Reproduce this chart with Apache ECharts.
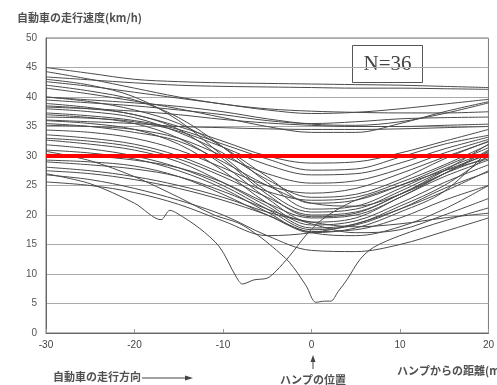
<!DOCTYPE html>
<html>
<head>
<meta charset="utf-8">
<script src="https://cdn.jsdelivr.net/npm/echarts@6/dist/echarts.min.js"></script>
<style>
  html, body { margin: 0; padding: 0; background: #fff; }
  #chart { width: 497px; height: 385px; }
</style>
</head>
<body>
<div id="chart"></div>
<script>
// 距離 (m) — hump at 0
const distance = [-30, -25, -20, -15, -10, -5, 0, 5, 10, 15, 20];
const xTicks = [-30, -20, -10, 0, 10, 20];
const yTicks = [0, 5, 10, 15, 20, 25, 30, 35, 40, 45, 50];
const limitSpeed = 30;
const sampleCount = 'N=36';

// speeds (km/h) on the distance grid
const speeds = [
    [45.0, 44.0, 43.0, 42.6, 42.4, 42.3, 42.2, 42.1, 42.0, 41.8, 41.6],
    [43.4, 42.9, 42.4, 42.0, 41.8, 41.7, 41.6, 41.5, 41.5, 41.4, 41.3],
    [44.3, 43.0, 41.5, 40.0, 38.8, 38.0, 37.6, 37.4, 37.3, 37.3, 37.5],
    [42.6, 41.8, 40.8, 39.8, 38.8, 37.8, 37.2, 37.4, 38.0, 38.8, 39.6],
    [40.0, 39.5, 39.0, 38.4, 37.5, 36.3, 35.4, 35.2, 35.8, 37.2, 39.0],
    [38.3, 38.0, 37.6, 37.0, 36.2, 35.6, 35.2, 35.0, 35.0, 35.2, 35.4],
    [36.1, 35.8, 35.5, 35.0, 34.8, 34.6, 34.5, 34.5, 34.6, 34.8, 35.0],
    [39.5, 39.0, 38.5, 37.8, 37.0, 36.0, 35.5, 35.8, 36.3, 36.5, 36.6],
    [41.5, 40.5, 39.3, 38.0, 36.5, 35.0, 34.0, 34.0, 35.5, 37.5, 39.2],
    [38.9, 38.2, 37.0, 35.0, 32.5, 30.0, 28.8, 29.0, 30.5, 32.5, 34.5],
    [37.3, 36.8, 36.0, 34.5, 32.0, 29.5, 27.6, 27.8, 29.8, 32.0, 33.5],
    [36.6, 36.4, 35.8, 34.2, 31.5, 28.5, 26.8, 27.0, 28.8, 31.2, 33.2],
    [35.2, 35.0, 34.5, 33.0, 30.0, 27.0, 25.4, 25.8, 27.8, 30.5, 32.8],
    [34.4, 34.0, 33.0, 31.0, 28.0, 25.0, 23.7, 24.5, 27.0, 29.8, 32.4],
    [33.6, 33.0, 32.0, 30.0, 27.0, 24.0, 22.5, 23.0, 25.5, 28.5, 31.9],
    [40.0, 39.2, 37.8, 35.5, 31.5, 26.5, 22.0, 22.5, 25.0, 28.2, 31.4],
    [42.0, 41.0, 39.5, 36.5, 31.5, 25.5, 21.0, 21.5, 24.5, 27.8, 30.7],
    [43.0, 42.0, 40.0, 36.0, 30.0, 24.0, 20.5, 21.0, 24.0, 27.5, 30.2],
    [38.5, 38.0, 37.0, 34.5, 29.5, 23.5, 19.7, 20.3, 23.5, 27.0, 29.8],
    [37.0, 36.5, 35.5, 33.0, 28.5, 22.8, 18.8, 19.5, 23.0, 26.5, 29.3],
    [36.0, 35.5, 34.5, 32.0, 27.5, 22.0, 18.3, 19.0, 22.0, 25.5, 28.5],
    [32.7, 32.0, 31.0, 29.0, 25.5, 21.5, 17.8, 18.5, 21.5, 25.0, 30.0],
    [31.9, 31.2, 30.0, 28.0, 25.0, 21.0, 17.5, 18.3, 21.0, 24.5, 27.3],
    [31.0, 30.5, 29.5, 27.5, 24.5, 20.5, 17.0, 17.8, 20.5, 24.0, 31.0],
    [29.3, 29.0, 28.3, 26.5, 23.5, 20.0, 17.2, 17.5, 19.5, 22.5, 25.0],
    [28.1, 27.5, 26.5, 25.0, 23.0, 20.5, 18.8, 18.0, 18.5, 19.5, 20.3],
    [26.8, 26.0, 24.5, 22.5, 20.0, 16.5, 14.0, 13.8, 15.0, 17.2, 19.5],
    [25.6, 25.0, 23.8, 21.8, 19.0, 16.5, 17.0, 18.5, 21.0, 24.0, 27.5],
    [27.5, 27.0, 26.0, 24.5, 22.5, 20.0, 17.0, 16.5, 18.0, 21.0, 25.0],
    [29.0, 28.5, 27.8, 26.5, 24.0, 21.0, 18.5, 17.0, 17.5, 20.0, 22.8],
    [38.0, 37.5, 36.5, 34.0, 30.5, 26.0, 23.0, 23.5, 26.0, 29.5, 32.5],
    [35.5, 35.0, 34.0, 32.5, 29.0, 25.0, 22.0, 21.5, 23.5, 27.0, 31.0],
    [30.3, 30.0, 29.3, 28.0, 25.5, 22.0, 19.5, 20.0, 23.0, 27.0, 30.5],
    [33.0, 32.5, 31.5, 29.5, 26.5, 23.0, 20.0, 20.5, 23.5, 27.5, 32.0]
];

// two vehicles that braked hard, as [distance, speed]
const vehicleA = [[-30, 27.0], [-25, 25.3], [-20, 22.0], [-17, 19.2], [-16, 20.8], [-15.2, 20.3],
    [-12.7, 17.8], [-10.4, 14.6], [-8.5, 9.5], [-7.8, 8.3], [-6.5, 9.0], [-5, 9.3], [-4, 10.5],
    [-2.5, 13.0], [-0.6, 16.6], [1, 19.0], [3, 21.0], [5, 22.5], [10, 25.0], [15, 27.5], [20, 29.5]];
const vehicleB = [[-30, 30.8], [-25, 29.2], [-20, 26.5], [-15, 23.0], [-11, 20.0], [-8.2, 18.6],
    [-6, 16.5], [-4.4, 14.6], [-2.5, 12.0], [-0.6, 8.0], [0.5, 5.2], [1.5, 5.4], [2.2, 5.4],
    [3, 7.0], [4, 9.0], [5.5, 12.5], [7, 14.5], [10, 16.5], [15, 19.0], [20, 21.2]];

const chart = echarts.init(document.getElementById('chart'));

const lineStyle = {color: '#4a4a4a', width: 1};
const series = speeds.map(s => ({
    type: 'line',
    data: distance.map((d, i) => [d, s[i]]),
    smooth: 0.35,
    symbol: 'none',
    lineStyle: lineStyle,
    silent: true
}));
[vehicleA, vehicleB].forEach(v => series.push({
    type: 'line',
    data: v,
    smooth: 0.3,
    symbol: 'none',
    lineStyle: lineStyle,
    silent: true
}));
series.push({
    type: 'line',
    data: [],
    z: 10,
    markLine: {
        silent: true,
        symbol: 'none',
        label: {show: false},
        lineStyle: {color: '#ff0000', width: 4, type: 'solid'},
        data: [{yAxis: limitSpeed}]
    }
});

const textFont = '"Noto Sans CJK JP", sans-serif';

chart.setOption({
    animation: false,
    grid: {
        left: 46, right: 8, top: 38, bottom: 52,
        show: true, borderColor: '#777', borderWidth: 1
    },
    xAxis: {
        type: 'value',
        min: xTicks[0], max: xTicks[xTicks.length - 1], interval: 10,
        axisLine: {show: true, onZero: false, lineStyle: {color: '#666'}},
        axisTick: {show: true, inside: true, length: 4, lineStyle: {color: '#999'}},
        axisLabel: {color: '#444', fontSize: 10, margin: 7, fontFamily: 'Arial, sans-serif'},
        splitLine: {show: false}
    },
    yAxis: {
        type: 'value',
        min: yTicks[0], max: yTicks[yTicks.length - 1], interval: 5,
        axisLine: {show: true, onZero: false, lineStyle: {color: '#666'}},
        axisTick: {show: false},
        axisLabel: {color: '#555', fontSize: 10, margin: 9, fontFamily: 'Arial, sans-serif'},
        splitLine: {show: true, lineStyle: {color: '#aaa', width: 1}}
    },
    graphic: [
        {type: 'text', left: 17, top: 12,
            style: {text: '自動車の走行速度(km/h)', font: 'bold 11px ' + textFont, fill: '#505050'}},
        {type: 'group', left: 352, top: 45, children: [
            {type: 'rect', shape: {x: 0, y: 0, width: 70, height: 37},
                style: {fill: '#fff', stroke: '#555', lineWidth: 1}},
            {type: 'text', x: 35, y: 19,
                style: {text: sampleCount, font: '21px "Liberation Serif", serif', fill: '#444',
                    textAlign: 'center', textVerticalAlign: 'middle'}}
        ]},
        {type: 'text', left: 53, top: 371,
            style: {text: '自動車の走行方向', font: 'bold 11px ' + textFont, fill: '#505050'}},
        {type: 'line', shape: {x1: 142, y1: 378, x2: 190, y2: 378},
            style: {stroke: '#444', lineWidth: 1}},
        {type: 'polygon', shape: {points: [[193, 378], [185, 375.5], [185, 380.5]]},
            style: {fill: '#444'}},
        {type: 'line', shape: {x1: 313, y1: 359, x2: 313, y2: 369},
            style: {stroke: '#444', lineWidth: 1}},
        {type: 'polygon', shape: {points: [[313, 355], [310.5, 362], [315.5, 362]]},
            style: {fill: '#444'}},
        {type: 'text', left: 280, top: 374,
            style: {text: 'ハンプの位置', font: 'bold 11px ' + textFont, fill: '#505050'}},
        {type: 'text', left: 397, top: 365,
            style: {text: 'ハンプからの距離(m)', font: 'bold 11px ' + textFont, fill: '#505050'}}
    ],
    series: series
});
</script>
</body>
</html>
